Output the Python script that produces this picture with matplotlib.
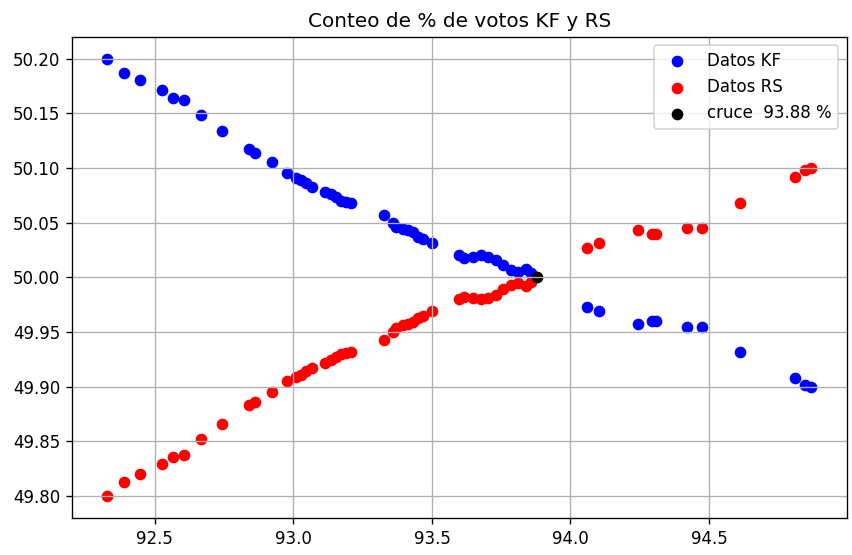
import matplotlib
matplotlib.use("Agg")
import matplotlib.pyplot as plt

# Porcentaje de actas contabilizadas (eje x)
conteo = [92.327, 92.390, 92.447, 92.525, 92.565, 92.606, 92.668, 92.744, 92.841, 92.861,
          92.921, 92.977, 93.010, 93.027, 93.046, 93.066, 93.114, 93.136, 93.154, 93.173,
          93.190, 93.208, 93.326, 93.358, 93.371, 93.395, 93.413, 93.431, 93.449, 93.467,
          93.501, 93.597, 93.617, 93.647, 93.678, 93.702, 93.732, 93.756, 93.786, 93.810,
          93.840, 93.858, 94.061, 94.102, 94.242, 94.296, 94.307, 94.422, 94.473, 94.612,
          94.811, 94.846, 94.870]

# % de votos validos KF
votos_kf = [50.200, 50.187, 50.180, 50.171, 50.164, 50.162, 50.148, 50.134, 50.117, 50.114,
            50.105, 50.095, 50.091, 50.089, 50.086, 50.083, 50.078, 50.076, 50.073, 50.070,
            50.069, 50.068, 50.057, 50.050, 50.046, 50.044, 50.043, 50.041, 50.037, 50.035,
            50.031, 50.020, 50.018, 50.019, 50.020, 50.019, 50.016, 50.011, 50.007, 50.005,
            50.008, 50.004, 49.973, 49.969, 49.957, 49.960, 49.960, 49.955, 49.955, 49.932,
            49.908, 49.902, 49.900]

# % de votos validos RS
votos_rs = [49.800, 49.813, 49.820, 49.829, 49.836, 49.838, 49.852, 49.866, 49.883, 49.886,
            49.895, 49.905, 49.909, 49.911, 49.914, 49.917, 49.922, 49.924, 49.927, 49.930,
            49.931, 49.932, 49.943, 49.950, 49.954, 49.956, 49.957, 49.959, 49.963, 49.965,
            49.969, 49.980, 49.982, 49.981, 49.980, 49.981, 49.984, 49.989, 49.993, 49.995,
            49.992, 49.996, 50.027, 50.031, 50.043, 50.040, 50.040, 50.045, 50.045, 50.068,
            50.092, 50.098, 50.100]

# Punto de cruce
cruce_x = 93.88
cruce_y = 50.0

fig, ax = plt.subplots(figsize=(852 / 120, 555 / 120), dpi=120)
fig.subplots_adjust(left=0.0842, right=0.9938, top=0.9339, bottom=0.0667)

ax.scatter(conteo, votos_kf, color="blue", label="Datos KF")
ax.scatter(conteo, votos_rs, color="red", label="Datos RS")
ax.scatter([cruce_x], [cruce_y], color="black", label="cruce  {:.2f} %".format(cruce_x))

ax.set_title("Conteo de % de votos KF y RS")
ax.grid(True)
ax.legend(loc="upper right")

fig.savefig("out.png", dpi=120)
